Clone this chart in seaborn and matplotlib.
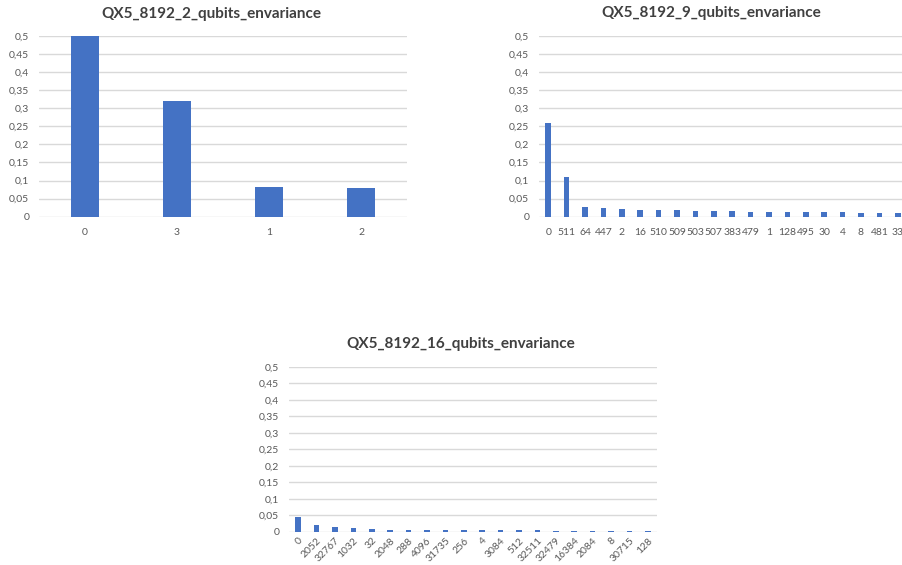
import matplotlib
matplotlib.use("Agg")
import matplotlib.pyplot as plt
import seaborn as sns
from matplotlib.ticker import FuncFormatter, MultipleLocator

# data
labels_2q = ["0", "3", "1", "2"]
values_2q = [0.517, 0.321, 0.083, 0.079]

labels_9q = ["0", "511", "64", "447", "2", "16", "510", "509", "503", "507",
             "383", "479", "1", "128", "495", "30", "4", "8", "481", "33"]
values_9q = [0.260, 0.110, 0.027, 0.025, 0.021, 0.019, 0.019, 0.019, 0.017, 0.015,
             0.015, 0.014, 0.014, 0.013, 0.013, 0.013, 0.012, 0.011, 0.011, 0.011]

labels_16q = ["0", "2052", "32767", "1032", "32", "2048", "288", "4096", "31735", "256",
              "4", "3084", "512", "32511", "32479", "16384", "2084", "8", "30715", "128"]
values_16q = [0.046, 0.019, 0.014, 0.011, 0.008, 0.006, 0.006, 0.006, 0.005, 0.005,
              0.004, 0.004, 0.004, 0.004, 0.003, 0.003, 0.003, 0.003, 0.003, 0.003]

titles = ["QX5_8192_2_qubits_envariance", "QX5_8192_9_qubits_envariance",
          "QX5_8192_16_qubits_envariance"]

sns.set_style("white")
plt.rcParams["font.family"] = ["Lato", "DejaVu Sans"]

BAR = "#4472C4"
GRID = "#D9D9D9"
TXT = "#595959"

W, H = 903, 565
fig = plt.figure(figsize=(W / 100, H / 100), dpi=100)


def add_axes(x0, x1, ytop, ybot):
    return fig.add_axes([x0 / W, 1 - ybot / H, (x1 - x0) / W, (ybot - ytop) / H])


def comma(v, pos):
    return f"{v:.2f}".rstrip("0").rstrip(".").replace(".", ",")


def style(ax, rot=0):
    ax.set_ylim(0, 0.5)
    ax.yaxis.set_major_locator(MultipleLocator(0.05))
    ax.yaxis.set_major_formatter(FuncFormatter(comma))
    ax.grid(axis="y", color=GRID, linewidth=1)
    ax.set_axisbelow(True)
    for s in ax.spines.values():
        s.set_visible(False)
    ax.tick_params(axis="both", length=0, labelsize=7.5, colors=TXT)
    ax.tick_params(axis="y", pad=7)
    ax.tick_params(axis="x", pad=8 if rot == 0 else 3)
    ax.set_xlabel("")
    ax.set_ylabel("")
    if rot:
        for t in ax.get_xticklabels():
            t.set_rotation(rot)
            t.set_ha("right")
            t.set_rotation_mode("anchor")


ax1 = add_axes(39, 407, 36, 216.7)
sns.barplot(x=labels_2q, y=values_2q, color=BAR, saturation=1, width=0.31,
            linewidth=0, ax=ax1)
style(ax1)

ax2 = add_axes(539, 907, 36, 216.7)
sns.barplot(x=labels_9q, y=values_9q, color=BAR, saturation=1, width=0.3,
            linewidth=0, ax=ax2)
style(ax2)

ax3 = add_axes(289, 657, 367, 531.7)
sns.barplot(x=labels_16q, y=values_16q, color=BAR, saturation=1, width=0.3,
            linewidth=0, ax=ax3)
style(ax3, rot=45)

for (cx, cy), t in zip([(211, 14), (711, 13), (461, 344)], titles):
    fig.text(cx / W, 1 - cy / H, t, ha="center", va="center",
             fontsize=11, fontweight="bold", color="#404040")

fig.savefig("out.png", dpi=100)
